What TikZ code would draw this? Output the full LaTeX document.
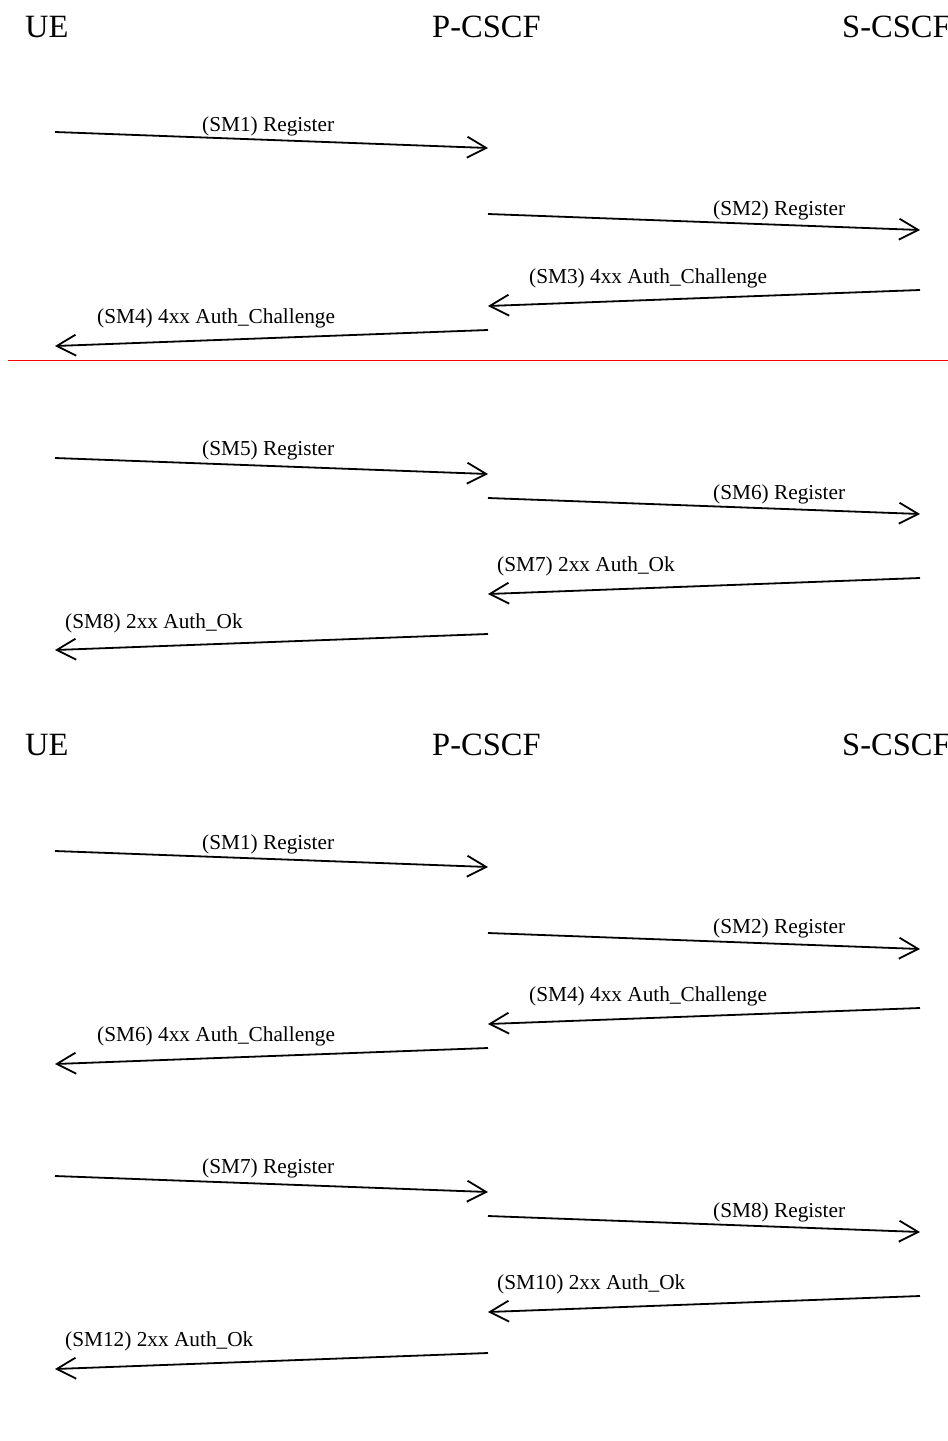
\documentclass[tikz,border=0pt]{standalone}
\usepackage{fontspec}
\setmainfont{Liberation Serif}
\usetikzlibrary{arrows.meta}
\begin{document}
\begin{tikzpicture}[x=1pt,y=-1pt,
  hdr/.style={anchor=base west,inner sep=0pt,font=\fontsize{32.5}{33}\selectfont},
  lbl/.style={anchor=base west,inner sep=0pt,font=\fontsize{21.3}{22}\selectfont},
  msg/.style={line width=1.8pt,-{Straight Barb[length=19pt,width=21pt,line width=1.8pt]}},
  sep/.style={red,line width=1pt}]
\useasboundingbox (0,0) rectangle (948,1441);
% headers
\node[hdr] (ue1) at (25,37) {UE};
\node[hdr] (pc1) at (432,37) {P-CSCF};
\node[hdr] (sc1) at (842,37) {S-CSCF};
\node[hdr] (ue2) at (25,755) {UE};
\node[hdr] (pc2) at (432,755) {P-CSCF};
\node[hdr] (sc2) at (842,755) {S-CSCF};
% first block
\coordinate (a1s) at (55,132);  \coordinate (a1e) at (488,148);
\coordinate (a2s) at (488,214); \coordinate (a2e) at (920,230);
\coordinate (a3s) at (920,290); \coordinate (a3e) at (488,306);
\coordinate (a4s) at (488,330); \coordinate (a4e) at (55,346);
\coordinate (r1) at (8,360);    \coordinate (r2) at (948,360);
\coordinate (a5s) at (55,458);  \coordinate (a5e) at (488,474);
\coordinate (a6s) at (488,498); \coordinate (a6e) at (920,514);
\coordinate (a7s) at (920,578); \coordinate (a7e) at (488,594);
\coordinate (a8s) at (488,634); \coordinate (a8e) at (55,650);
% second block
\coordinate (b1s) at (55,851);   \coordinate (b1e) at (488,867);
\coordinate (b2s) at (488,933);  \coordinate (b2e) at (920,949);
\coordinate (b3s) at (920,1008); \coordinate (b3e) at (488,1024);
\coordinate (b4s) at (488,1048); \coordinate (b4e) at (55,1064);
\coordinate (b5s) at (55,1176);  \coordinate (b5e) at (488,1192);
\coordinate (b6s) at (488,1216); \coordinate (b6e) at (920,1232);
\coordinate (b7s) at (920,1296); \coordinate (b7e) at (488,1312);
\coordinate (b8s) at (488,1353); \coordinate (b8e) at (55,1369);
\draw[msg] (a1s) -- (a1e);
\draw[msg] (a2s) -- (a2e);
\draw[msg] (a3s) -- (a3e);
\draw[msg] (a4s) -- (a4e);
\draw[sep] (r1) -- (r2);
\draw[msg] (a5s) -- (a5e);
\draw[msg] (a6s) -- (a6e);
\draw[msg] (a7s) -- (a7e);
\draw[msg] (a8s) -- (a8e);
\draw[msg] (b1s) -- (b1e);
\draw[msg] (b2s) -- (b2e);
\draw[msg] (b3s) -- (b3e);
\draw[msg] (b4s) -- (b4e);
\draw[msg] (b5s) -- (b5e);
\draw[msg] (b6s) -- (b6e);
\draw[msg] (b7s) -- (b7e);
\draw[msg] (b8s) -- (b8e);
% labels
\node[lbl] (l1) at (202,131) {(SM1) Register};
\node[lbl] (l2) at (713,215) {(SM2) Register};
\node[lbl] (l3) at (529,283) {(SM3) 4xx Auth\_Challenge};
\node[lbl] (l4) at (97,323) {(SM4) 4xx Auth\_Challenge};
\node[lbl] (l5) at (202,455) {(SM5) Register};
\node[lbl] (l6) at (713,499) {(SM6) Register};
\node[lbl] (l7) at (497,571) {(SM7) 2xx Auth\_Ok};
\node[lbl] (l8) at (65,628) {(SM8) 2xx Auth\_Ok};
\node[lbl] (m1) at (202,849) {(SM1) Register};
\node[lbl] (m2) at (713,933) {(SM2) Register};
\node[lbl] (m3) at (529,1001) {(SM4) 4xx Auth\_Challenge};
\node[lbl] (m4) at (97,1041) {(SM6) 4xx Auth\_Challenge};
\node[lbl] (m5) at (202,1173) {(SM7) Register};
\node[lbl] (m6) at (713,1217) {(SM8) Register};
\node[lbl] (m7) at (497,1289) {(SM10) 2xx Auth\_Ok};
\node[lbl] (m8) at (65,1346) {(SM12) 2xx Auth\_Ok};
\end{tikzpicture}
\end{document}
